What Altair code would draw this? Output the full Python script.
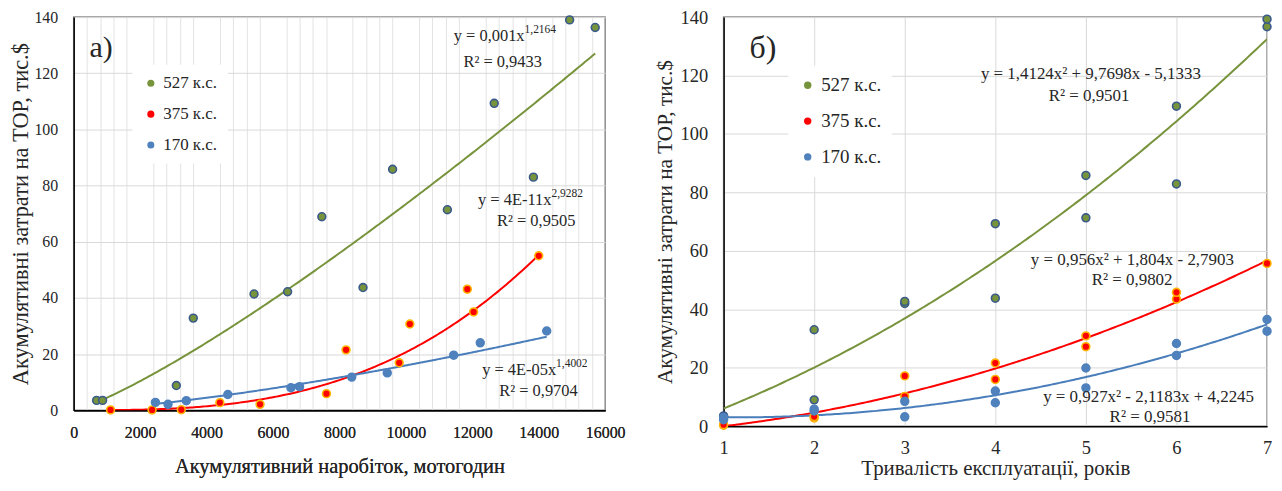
import altair as alt
import numpy as np
import pandas as pd

SERIES = ["527 к.с.", "375 к.с.", "170 к.с."]
KEYS = ["g", "r", "b"]
FILL = ["#77933C", "#FF0000", "#4F81BD"]
EDGE = ["#3A5A8C", "#FFB400", "#4F81BD"]
LINE = ["#77933C", "#FF0000", "#4A7EBB"]
FONT = "Liberation Serif"
TXT = "#262626"

# ---- panel а): cumulative operating hours vs cumulative cost ----
a_527_x = [690, 870, 3090, 3600, 5430, 6440, 7470, 8710, 9600, 11250, 12660, 13840, 14930, 15700]
a_527_y = [3.5, 3.5, 8.8, 32.8, 41.4, 42.2, 68.9, 43.7, 85.8, 71.4, 109.3, 83.0, 139.0, 136.3]
a_375_x = [1110, 2360, 3240, 4400, 5610, 7610, 8200, 9800, 10120, 11850, 12040, 14000]
a_375_y = [0.1, 0.1, 0.2, 2.7, 2.1, 5.9, 21.5, 16.9, 30.7, 43.1, 35.0, 55.0]
a_170_x = [2460, 2840, 3390, 4640, 6540, 6800, 8370, 9440, 11440, 12240, 14240]
a_170_y = [2.8, 2.1, 3.4, 5.6, 8.0, 8.4, 11.8, 13.3, 19.6, 24.0, 28.2]
# power trend lines y = a*x^b (as printed on the chart)
a_coef_a = [0.001, 4e-11, 4e-05]
a_coef_b = [1.2164, 2.9282, 1.4002]

# ---- panel б): years of operation vs cumulative cost ----
b_527_t = [1, 1, 2, 2, 3, 3, 4, 4, 5, 5, 6, 6, 7, 7]
b_527_y = [3.5, 3.3, 9.0, 33.0, 42.0, 42.7, 43.8, 69.3, 71.3, 85.8, 82.9, 109.5, 136.7, 139.3]
b_375_t = [1, 1, 2, 2, 3, 3, 4, 4, 5, 5, 6, 6, 7]
b_375_y = [0.3, 0.5, 2.8, 3.3, 10.2, 17.2, 16.0, 21.6, 27.2, 30.9, 43.5, 45.8, 55.7]
b_170_t = [1, 1, 2, 2, 3, 3, 4, 4, 5, 5, 6, 6, 7, 7]
b_170_y = [3.0, 2.2, 5.8, 5.2, 8.5, 3.2, 12.0, 8.0, 19.9, 13.1, 28.3, 24.2, 36.5, 32.5]
# quadratic trend lines y = c2*x^2 + c1*x + c0 (as printed on the chart)
b_c2 = [1.4124, 0.956, 0.927]
b_c1 = [9.7698, 1.804, -2.1183]
b_c0 = [-5.1333, -2.7903, 4.2245]


def frame(groups):
    return pd.concat([pd.DataFrame({"x": xs, "y": ys, "s": SERIES[i], "k": KEYS[i]})
                      for i, (xs, ys) in enumerate(groups)])


a_pts = frame([(a_527_x, a_527_y), (a_375_x, a_375_y), (a_170_x, a_170_y)])
b_pts = frame([(b_527_t, b_527_y), (b_375_t, b_375_y), (b_170_t, b_170_y)])

a_groups = []
for i, xs in enumerate([a_527_x, a_375_x, a_170_x]):
    xx = np.linspace(min(xs), max(xs), 200)
    a_groups.append((xx, a_coef_a[i] * xx ** a_coef_b[i]))
a_lines = frame(a_groups)

b_groups = []
for i in range(3):
    xx = np.linspace(1, 7, 200)
    b_groups.append((xx, b_c2[i] * xx ** 2 + b_c1[i] * xx + b_c0[i]))
b_lines = frame(b_groups)

# annotations
a_eq = pd.DataFrame({"x": [13573, 14382, 14523], "y": [133.1, 74.9, 14.45],
                     "t": ["y = 0,001x", "y = 4E-11x", "y = 4E-05x"],
                     "sup": ["1,2164", "2,9282", "1,4002"]})
a_r2 = pd.DataFrame({"x": [12914, 13925, 13993], "y": [123.9, 67.3, 6.84],
                     "t": ["R² = 0,9433", "R² = 0,9505", "R² = 0,9704"]})
b_eq = pd.DataFrame({"x": [5.055, 5.035, 5.513, 5.51, 5.692, 5.708],
                     "y": [120.5, 113.1, 56.7, 50.0, 10.0, 3.2],
                     "t": ["y = 1,4124x² + 9,7698x  - 5,1333", "R² = 0,9501",
                           "y = 0,956x² + 1,804x - 2,7903", "R² = 0,9802",
                           "y = 0,927x² - 2,1183x + 4,2245", "R² = 0,9581"]})
a_lab = pd.DataFrame({"x": [479], "y": [129.1], "t": ["а)"]})
b_lab = pd.DataFrame({"x": [1.287], "y": [129.4], "t": ["б)"]})

YTITLE = "Акумулятивні затрати на ТОР, тис.$"


def yaxis(tsize, lsize, tp, lp):
    return alt.Axis(values=list(range(0, 141, 20)), title=YTITLE, titleFont=FONT, titleFontSize=tsize,
                    titleFontWeight="normal", titleColor=TXT, titlePadding=tp, labelFont=FONT,
                    labelFontSize=lsize, labelColor=TXT, labelPadding=lp, ticks=False,
                    domainColor="#000000", domainWidth=1.5, gridColor="#D9D9D9", gridWidth=1)


def panel(pts, lines, xs, ys, legx, legy, rowpad, lfont, ssize):
    ln = alt.Chart(lines).mark_line(strokeWidth=2, clip=True).encode(
        x=xs, y=ys, detail="k:N",
        color=alt.Color("k:N", scale=alt.Scale(domain=KEYS, range=LINE), legend=None))
    pt = alt.Chart(pts).mark_point(filled=True, size=62, strokeWidth=1.6, opacity=1).encode(
        x=xs, y=ys,
        fill=alt.Fill("s:N", scale=alt.Scale(domain=SERIES, range=FILL),
                      legend=alt.Legend(title=None, orient="none", legendX=legx, legendY=legy,
                                        fillColor="white", padding=10, labelFont=FONT,
                                        labelFontSize=lfont, labelColor=TXT, symbolSize=ssize,
                                        symbolType="circle", rowPadding=rowpad, labelOffset=4,
                                        symbolStrokeWidth=0)),
        stroke=alt.Stroke("k:N", scale=alt.Scale(domain=KEYS, range=EDGE), legend=None))
    return ln, pt


def texts(df, align, size, dy=0, field="t", hide_x=False):
    xenc = alt.X("x:Q", axis=None) if hide_x else alt.X("x:Q")
    return alt.Chart(df).mark_text(align=align, baseline="middle", font=FONT, fontSize=size,
                                   color=TXT, dy=dy).encode(
        x=xenc, y=alt.Y("y:Q"), text=f"{field}:N")


# ---- left panel ----
xsc_a = alt.Scale(domain=[0, 16000], nice=False)
ysc = alt.Scale(domain=[0, 140], nice=False)
ax_a = alt.Axis(values=list(range(0, 16001, 2000)), format="d", orient="bottom",
                title="Акумулятивний наробіток, мотогодин", titleFont=FONT, titleFontSize=20.5,
                titleFontWeight="normal", titleColor=TXT, titlePadding=17, labelFont=FONT,
                labelFontSize=16, labelColor=TXT, labelPadding=14, ticks=False, labelOverlap=False,
                labelFlush=False, domainColor="#000000", domainWidth=1.5,
                gridColor="#BFBFBF", gridWidth=1)
minor_vals = [v for v in range(0, 16001, 400) if v % 2000]
ax_minor = alt.Axis(values=minor_vals, orient="bottom", labels=False, ticks=False, domain=False,
                    title=None, gridColor="#E3E3E3", gridWidth=1)
grid_minor = alt.Chart(a_pts).mark_point(opacity=0).encode(
    x=alt.X("x:Q", scale=xsc_a, axis=ax_minor))

ln_a, pt_a = panel(a_pts, a_lines, alt.X("x:Q", scale=xsc_a, axis=ax_a),
                   alt.Y("y:Q", scale=ysc, axis=yaxis(22.5, 16, 1.5, 16)), 59, 48, 13, 17, 50)

left = alt.layer(
    grid_minor, ln_a, pt_a,
    texts(a_eq, "right", 16.5, hide_x=True),
    texts(a_eq, "left", 11.5, dy=-6, field="sup", hide_x=True),
    texts(a_r2, "center", 16.5, hide_x=True),
    texts(a_lab, "left", 30, hide_x=True),
).resolve_axis(x="independent").properties(width=534, height=395)

# ---- right panel ----
ax_b = alt.Axis(values=[1, 2, 3, 4, 5, 6, 7], format="d",
                title="Тривалість експлуатації,  років", titleFont=FONT, titleFontSize=21,
                titleFontWeight="normal", titleColor=TXT, titlePadding=1.5, labelFont=FONT,
                labelFontSize=18.5, labelColor=TXT, labelPadding=12, ticks=False, labelOverlap=False,
                labelFlush=False, domainColor="#000000", domainWidth=1.5, gridColor="#D9D9D9",
                gridWidth=1)
ln_b, pt_b = panel(b_pts, b_lines, alt.X("x:Q", scale=alt.Scale(domain=[1, 7], nice=False), axis=ax_b),
                   alt.Y("y:Q", scale=ysc, axis=yaxis(21.3, 18.5, 4.5, 16)), 65, 49, 16, 19, 55)

right = alt.layer(
    ln_b, pt_b,
    texts(b_eq, "center", 17),
    texts(b_lab, "left", 32),
).properties(width=546, height=411)

chart = alt.hconcat(left, right, spacing=28).resolve_scale(
    fill="independent", stroke="independent", color="independent"
).properties(
    padding={"left": 0, "top": -2, "right": -1, "bottom": 5}, background="white"
).configure_view(stroke="#8C8C8C", strokeWidth=1.5)

chart.save("out.html", embed_options={"renderer": "svg", "actions": False})
